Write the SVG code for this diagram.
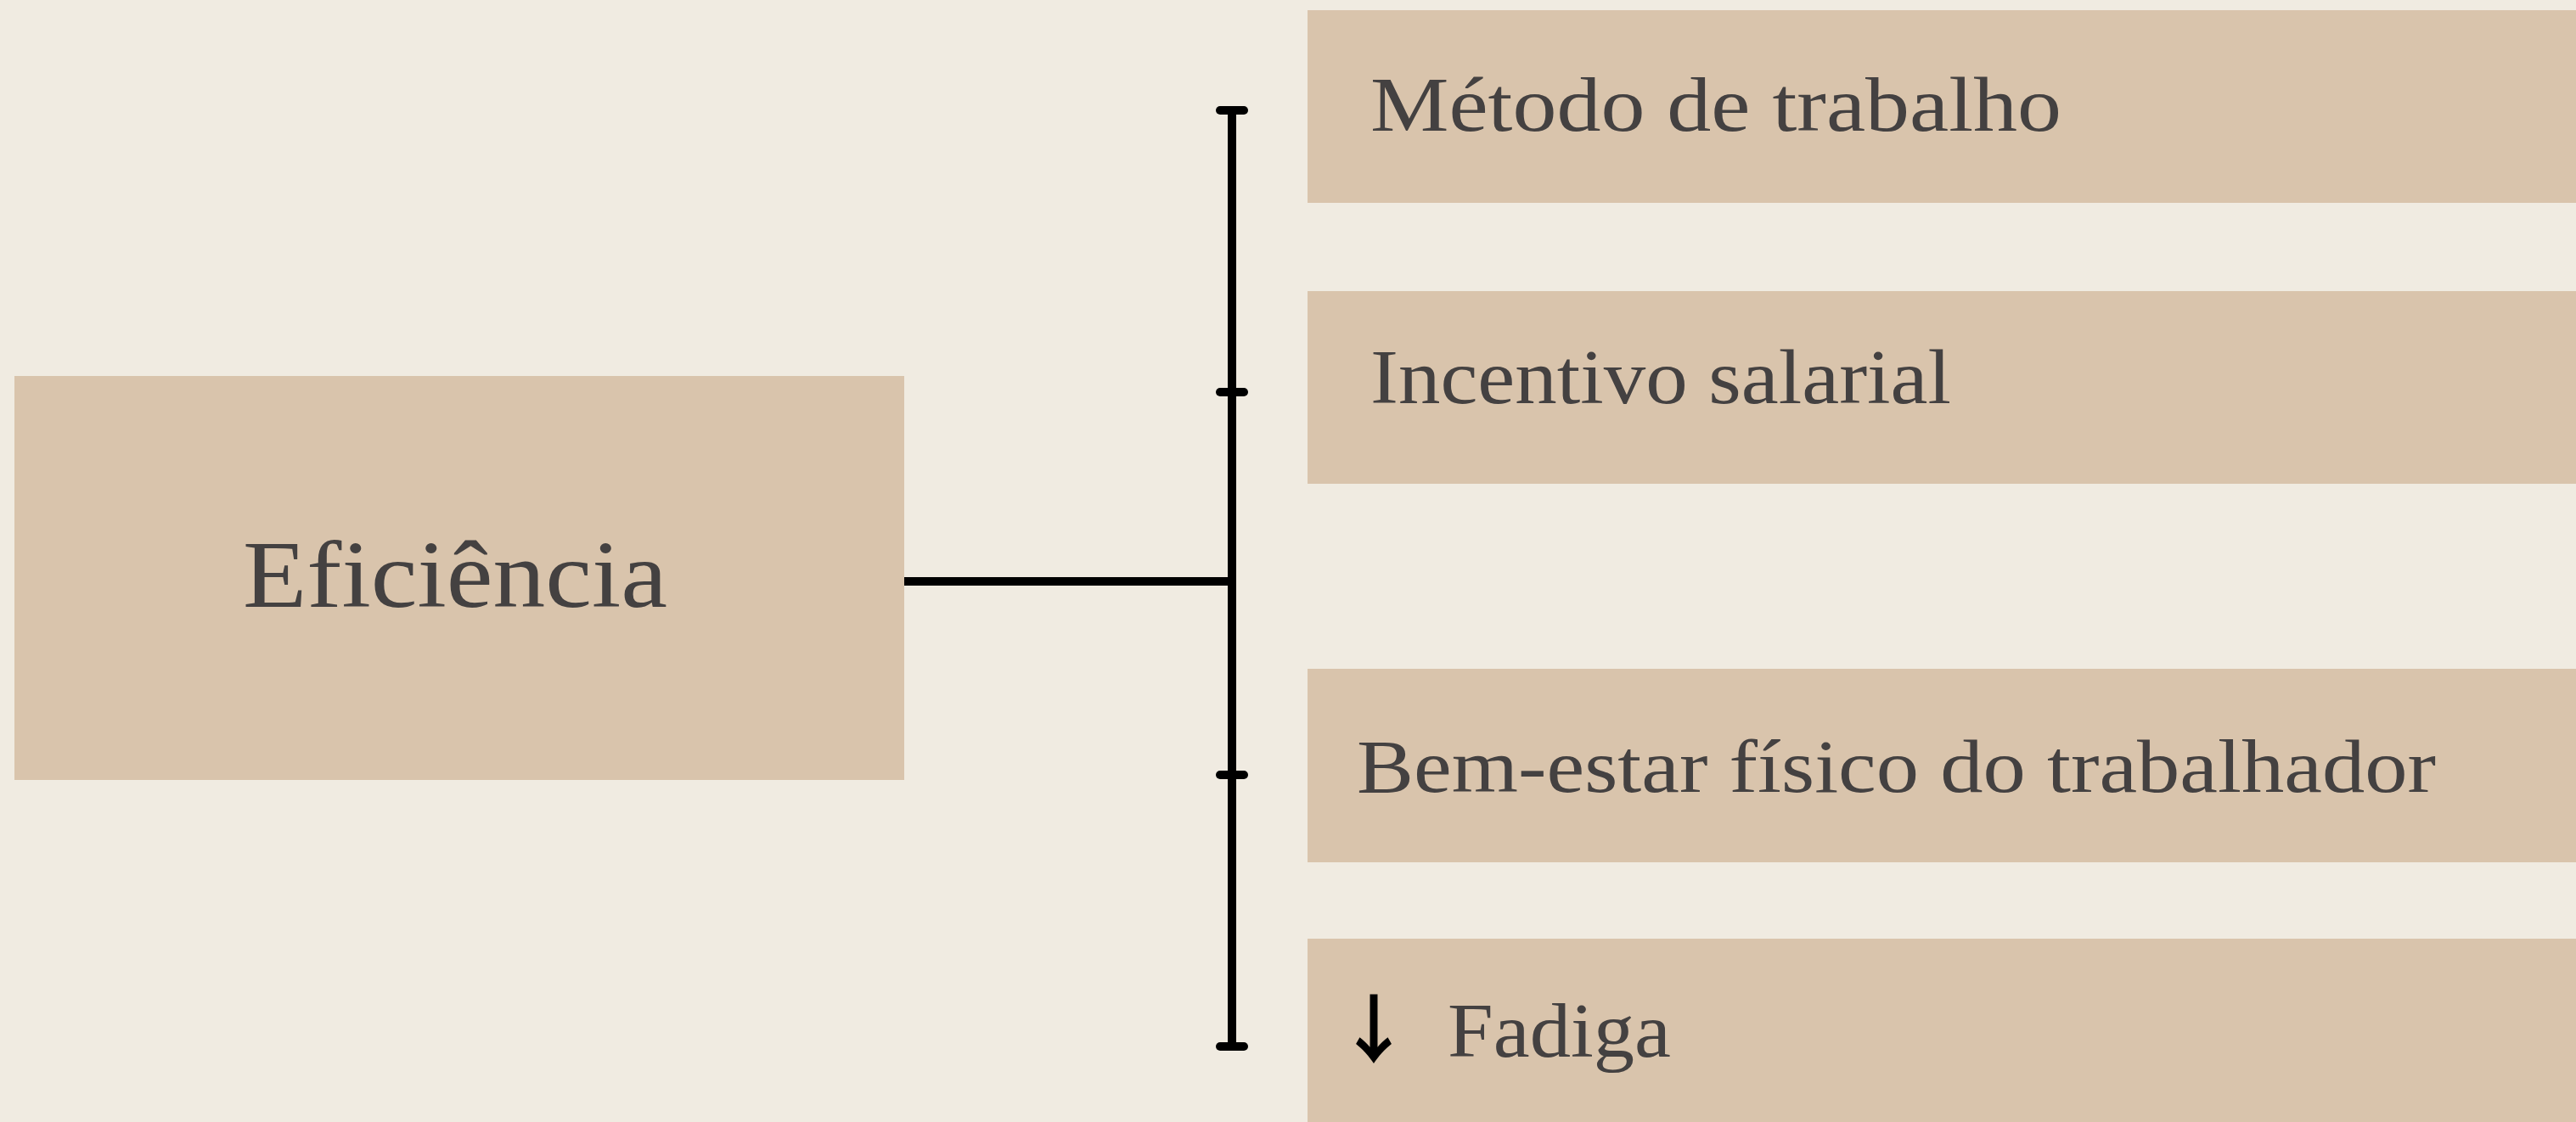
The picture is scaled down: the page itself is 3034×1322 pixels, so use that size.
<svg xmlns="http://www.w3.org/2000/svg" width="3034" height="1322" viewBox="0 0 3034 1322">
<style>
.box{fill:#d9c4ac}
.t{font-family:"Liberation Serif","Times New Roman",serif;fill:#444141}
.ln{stroke:#000;stroke-width:10;fill:none}
.tick{stroke:#000;stroke-width:10;stroke-linecap:round}
</style>
<rect width="3034" height="1322" fill="#f0ebe1"/>
<g id="connectors">
<line class="ln" x1="1065" y1="685" x2="1451" y2="685"/>
<line class="ln" x1="1451" y1="130" x2="1451" y2="1233"/>
<line class="tick" x1="1437" y1="130" x2="1465" y2="130"/>
<line class="tick" x1="1437" y1="462" x2="1465" y2="462"/>
<line class="tick" x1="1437" y1="913" x2="1465" y2="913"/>
<line class="tick" x1="1437" y1="1233" x2="1465" y2="1233"/>
</g>
<g id="eficiencia">
<rect class="box" x="17" y="443" width="1048" height="476"/>
<text class="t" x="286" y="715" font-size="113" textLength="500" lengthAdjust="spacingAndGlyphs">Eficiência</text>
</g>
<g id="metodo">
<rect class="box" x="1540" y="12" width="1494" height="227"/>
<text class="t" x="1614" y="154" font-size="91" textLength="814" lengthAdjust="spacingAndGlyphs">Método de trabalho</text>
</g>
<g id="incentivo">
<rect class="box" x="1540" y="343" width="1494" height="227"/>
<text class="t" x="1614" y="475" font-size="90" textLength="684" lengthAdjust="spacingAndGlyphs">Incentivo salarial</text>
</g>
<g id="bemestar">
<rect class="box" x="1540" y="788" width="1494" height="228"/>
<text class="t" x="1598" y="933" font-size="89" textLength="1271" lengthAdjust="spacingAndGlyphs">Bem-estar físico do trabalhador</text>
</g>
<g id="fadiga">
<rect class="box" x="1540" y="1106" width="1494" height="216"/>
<text x="1618" y="1245" font-family="Noto Sans CJK SC,sans-serif" font-size="88" font-weight="bold" fill="#000" text-anchor="middle">↓</text>
<text class="t" x="1705" y="1245" font-size="90" textLength="263" lengthAdjust="spacingAndGlyphs">Fadiga</text>
</g>
</svg>
